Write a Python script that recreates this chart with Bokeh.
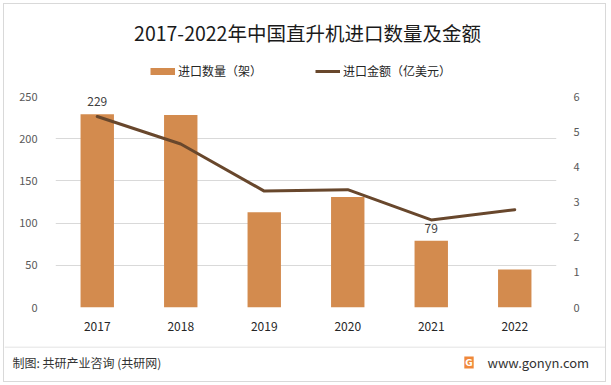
from bokeh.plotting import figure
from bokeh.layouts import column
from bokeh.models import (Range1d, LinearAxis, FixedTicker, ColumnDataSource, Legend,
                          LegendItem, Label, LabelSet, FactorRange, Span)
from bokeh.core.properties import value
from bokeh.embed import file_html
from bokeh.resources import INLINE

years = ["2017", "2018", "2019", "2020", "2021", "2022"]
quantity = [229, 228, 113, 131, 79, 45]          # 进口数量（架）
amount = [5.43, 4.65, 3.31, 3.35, 2.49, 2.78]    # 进口金额（亿美元）
qty_labels = ["229", "", "", "", "79", ""]
left_ticks = [0, 50, 100, 150, 200, 250]
right_ticks = [0, 1, 2, 3, 4, 5, 6]

FONT = "Noto Sans CJK SC"
BAR = "#D38B4E"
LINE = "#68472C"
GRID = "#D9D9D9"
W = 601


def blank(height, x0, x1, y_top, y_bottom):
    f = figure(width=W, height=height, x_range=Range1d(x0, x1), y_range=Range1d(y_bottom, y_top),
               min_border=0, output_backend="svg", toolbar_location=None,
               x_axis_location=None, y_axis_location=None)
    f.grid.visible = False
    f.outline_line_color = None
    f.frame_align = False
    return f


# ---------- header: title + legend ----------
head = blank(82, 4, 605, 4, 86)
head.add_layout(Label(x=307, y=32, text="2017-2022年中国直升机进口数量及金额",
                      text_align="center", text_baseline="middle", text_font=FONT,
                      text_font_size="19.5px", text_color="#1a1a1a"))
# swatch renderers with data outside the visible window: they only show in the legend
sw_bar = head.line(x=[-50, -40], y=[-50, -50], line_width=7, line_color=BAR, line_cap="butt")
sw_line = head.line(x=[-50, -40], y=[-50, -50], line_width=3, line_color=LINE, line_cap="butt")
legend = Legend(items=[LegendItem(label="进口数量（架）", renderers=[sw_bar]),
                       LegendItem(label="进口金额（亿美元）", renderers=[sw_line])],
                orientation="horizontal", location=(146, 7),
                glyph_width=25, glyph_height=14, label_height=14, label_standoff=3,
                spacing=53, padding=0, margin=0, border_line_color=None,
                background_fill_alpha=0, label_text_font=FONT,
                label_text_font_size="12px", label_text_color="#262626")
head.add_layout(legend)

# ---------- main chart ----------
src = ColumnDataSource(dict(year=years, qty=quantity, amt=amount, qlabel=qty_labels))

p = figure(x_range=FactorRange(*years, range_padding=0), y_range=Range1d(0, 250),
           width=W, height=260, frame_width=501, frame_height=211,
           min_border_left=51, min_border_right=49, min_border_top=10, min_border_bottom=39,
           output_backend="svg", toolbar_location=None)
p.frame_align = False
p.outline_line_color = None
p.xgrid.visible = False
p.ygrid.ticker = FixedTicker(ticks=left_ticks)
p.ygrid.grid_line_color = GRID

p.extra_y_ranges = {"amt": Range1d(0, 6)}
yl = p.yaxis[0]
yl.ticker = FixedTicker(ticks=left_ticks)
yr = LinearAxis(y_range_name="amt", ticker=FixedTicker(ticks=right_ticks))
p.add_layout(yr, "right")
for ax in (yl, yr):
    ax.axis_line_color = None
    ax.major_tick_line_color = None
    ax.minor_tick_line_color = None
    ax.major_label_standoff = 12
    ax.major_label_text_font = FONT
    ax.major_label_text_font_size = "11px"
    ax.major_label_text_color = "#595959"
yr.major_label_standoff = 11

xa = p.xaxis[0]
xa.axis_line_color = None
xa.major_tick_line_color = None
xa.major_label_standoff = 8
xa.major_label_text_font = FONT
xa.major_label_text_font_size = "12px"
xa.major_label_text_color = "#262626"

p.vbar(x="year", top="qty", width=0.4, source=src, fill_color=BAR, line_color=None)
p.line(x="year", y="amt", y_range_name="amt", source=src, line_width=3,
       line_color=LINE, line_join="round", line_cap="round")
p.add_layout(LabelSet(x="year", y="qty", text="qlabel", source=src, y_offset=8,
                      text_align="center", text_baseline="bottom",
                      text_font=value(FONT), text_font_size=value("12px"),
                      text_color="#404040"))

# ---------- footer ----------
foot = blank(35, 4, 605, 346, 381)
foot.add_layout(Span(location=346.5, dimension="width", line_color=GRID, line_width=1))
foot.add_layout(Label(x=12, y=362, text="制图: 共研产业咨询 (共研网)", text_align="left",
                      text_baseline="middle", text_font=FONT, text_font_size="12px",
                      text_color="#333333"))
foot.add_layout(Label(x=487, y=362, text="www.gonyn.com", text_align="left",
                      text_baseline="middle", text_font=FONT, text_font_size="13px",
                      text_color="#333333"))
foot.add_layout(Label(x=468.5, y=362, text="G", text_align="center", text_baseline="middle",
                      text_font="DejaVu Sans", text_font_size="9px", text_font_style="bold",
                      text_color="white", background_fill_color="#F0883A", padding=1))

layout = column(head, p, foot, spacing=0,
                styles={"margin-left": "3px", "margin-top": "3px",
                        "border": "1px solid #D9D9D9"})

open("out.html", "w").write(file_html(layout, INLINE))
